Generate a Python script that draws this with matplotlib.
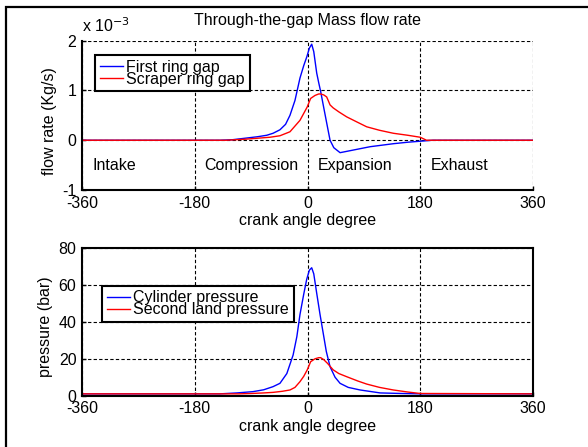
import matplotlib
matplotlib.use("Agg")
import matplotlib.pyplot as plt
from matplotlib.patches import Rectangle

plt.rcParams['font.family'] = ['Liberation Sans', 'DejaVu Sans']
plt.rcParams['font.size'] = 11.5
plt.rcParams['axes.unicode_minus'] = False

# mass flow through the ring gaps (units of 1e-3 kg/s)
ring1_angle = [-360, -140, -120, -100, -80, -65, -55, -44, -35, -28, -20, -12, -6, -1, 3, 6.7,
               10, 14.7, 18, 21, 26, 30.6, 36, 42, 52, 60, 80, 100, 137, 160, 180, 200, 360]
ring1_flow = [0, 0, 0.01, 0.04, 0.07, 0.1, 0.14, 0.21, 0.32, 0.5, 0.8, 1.25, 1.5, 1.68, 1.85, 1.93,
              1.78, 1.35, 1.15, 0.98, 0.65, 0.35, 0.0, -0.15, -0.25, -0.23, -0.18, -0.13, -0.07, -0.04, -0.02, 0, 0]

scraper_angle = [-360, -130, -100, -80, -60, -44, -28, -12, -0.4, 5, 12, 18, 21, 26, 30.6, 33, 36,
                 41, 50, 62.5, 80, 94.5, 115, 137, 160, 180, 190, 360]
scraper_flow = [0, 0, 0.02, 0.04, 0.06, 0.09, 0.17, 0.4, 0.67, 0.84, 0.9, 0.93, 0.93, 0.91, 0.87, 0.8, 0.71,
                0.65, 0.57, 0.47, 0.36, 0.27, 0.2, 0.14, 0.1, 0.06, 0.0, 0.0]

# pressures (bar)
cyl_angle = [-360, -140, -113, -87, -70, -55, -44, -33, -23, -17, -12, -6, -1.3, 3, 6.7, 10, 14.7,
             20, 25, 30, 36, 44, 52, 65, 84, 116, 150, 180, 360]
cyl_pressure = [1, 1, 1.5, 2.2, 3.2, 4.9, 6.7, 12, 22, 32, 44, 55, 63, 68, 69.3, 66, 55.5,
                44, 34, 24, 15.7, 10, 6.7, 4.5, 3.1, 1.5, 1.2, 1, 1]

land_angle = [-360, -110, -90, -70, -55, -40, -28, -20, -12, -6, -0.4, 5, 12, 18, 21, 26, 32, 41,
              50, 62.5, 80, 94.5, 115, 137, 160, 180, 360]
land_pressure = [1, 1, 1.2, 1.5, 1.8, 2.4, 3.1, 4.5, 7.6, 10.5, 14, 18.4, 20, 20.6, 20.6, 19.5, 17.5, 14,
                 12, 10.3, 8, 6.3, 4.5, 3.1, 2, 1.2, 1]

x_ticks = [-360, -180, 0, 180, 360]
phases = ["Intake", "Compression", "Expansion", "Exhaust"]
phase_start = [-344, -165, 16, 197]

fig = plt.figure(figsize=(5.88, 4.47), dpi=100)
fig.patches.append(Rectangle((5.5 / 588, -0.1), 1.2, 1.1 - 7.5 / 447, transform=fig.transFigure,
                             fill=False, edgecolor='black', linewidth=1.6))

grid_style = dict(color='black', linestyle=(0, (3, 2)), linewidth=0.8)


def style_axes(ax):
    ax.set_xlim(-360, 360)
    ax.set_xticks(x_ticks)
    ax.grid(True, **grid_style)
    ax.tick_params(direction='in', length=3, width=1, pad=4)
    for s in ax.spines.values():
        s.set_linewidth(1.5)
    ax.set_xlabel("crank angle degree", labelpad=2)


legend_style = dict(loc='upper left', borderaxespad=0, labelspacing=-0.2, handlelength=1.45,
                    handletextpad=0.2, borderpad=0.3, fancybox=False, framealpha=1,
                    edgecolor='black')

# upper plot
ax1 = fig.add_axes([82 / 588, 1 - 190 / 447, 451 / 588, 149.3 / 447])
ax1.plot(ring1_angle, ring1_flow, color='blue', lw=1.0, label="First ring gap")
ax1.plot(scraper_angle, scraper_flow, color='red', lw=1.0, label="Scraper ring gap")
ax1.set_ylim(-1, 2)
ax1.set_yticks([-1, 0, 1, 2])
style_axes(ax1)
ax1.spines['top'].set_visible(False)
ax1.spines['right'].set_visible(False)
ax1.set_ylabel("flow rate (Kg/s)")
ax1.yaxis.set_label_coords(-0.055, 0.465)
ax1.set_title("Through-the-gap Mass flow rate", fontsize=11.5, pad=11)
ax1.text(0, 1.035, r"x 10$^{-3}$", transform=ax1.transAxes, ha='left', va='bottom')
for name, x0 in zip(phases, phase_start):
    ax1.text(x0, -0.5, name, ha='left', va='center')
leg1 = ax1.legend(bbox_to_anchor=(0.029, 0.904), **legend_style)
leg1.get_frame().set_linewidth(1.5)

# lower plot
ax2 = fig.add_axes([82 / 588, 1 - 395.7 / 447, 451 / 588, 147.7 / 447])
ax2.plot(cyl_angle, cyl_pressure, color='blue', lw=1.0, label="Cylinder pressure")
ax2.plot(land_angle, land_pressure, color='red', lw=1.0, label="Second land pressure")
ax2.set_ylim(0, 80)
ax2.set_yticks([0, 20, 40, 60, 80])
style_axes(ax2)
ax2.set_ylabel("pressure (bar)")
ax2.yaxis.set_label_coords(-0.064, 0.465)
leg2 = ax2.legend(bbox_to_anchor=(0.044, 0.745), **legend_style)
leg2.get_frame().set_linewidth(1.5)

fig.savefig("out.png", dpi=100)
